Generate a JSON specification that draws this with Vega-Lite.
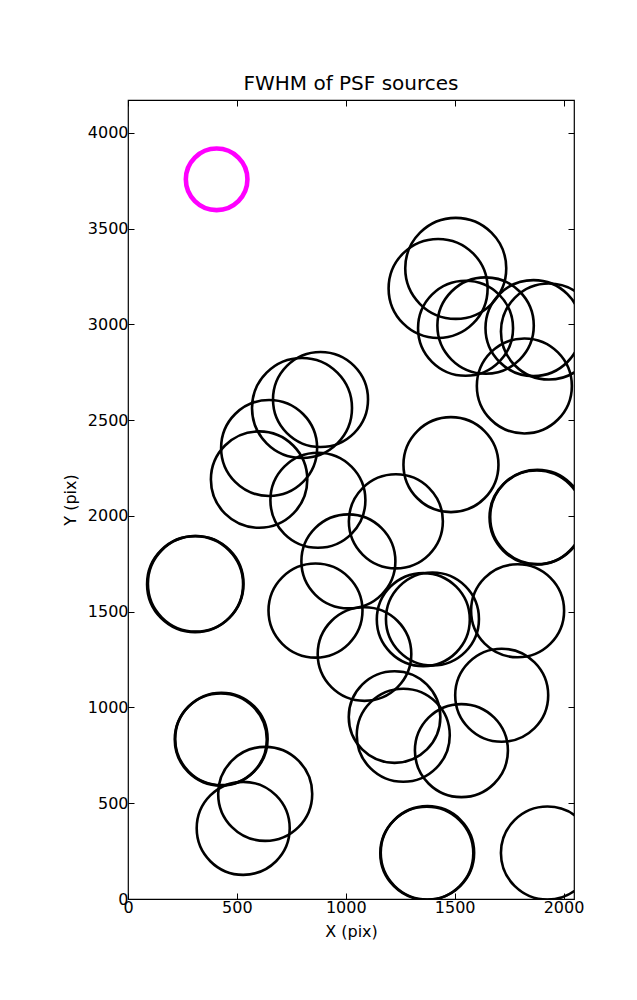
{
  "$schema": "https://vega.github.io/schema/vega-lite/v6.json",
  "width": 446,
  "height": 799,
  "autosize": {"type": "none"},
  "padding": {"left": 128, "top": 100, "right": 63, "bottom": 101},
  "background": "white",
  "title": {"text": "FWHM of PSF sources", "font": "DejaVu Sans", "fontSize": 20, "fontWeight": "normal", "color": "black", "offset": 6},
  "config": {
    "view": {"stroke": "black", "strokeWidth": 1.2},
    "axis": {"grid": false, "domain": false, "tickColor": "black", "tickSize": -6, "tickWidth": 1, "labelFont": "DejaVu Sans", "labelFontSize": 16, "labelColor": "black", "labelFlush": false, "labelOverlap": false, "format": "d", "titleFont": "DejaVu Sans", "titleFontSize": 16, "titleFontWeight": "normal", "titleColor": "black", "labelPadding": 6}
  },
  "data": {"values": [
    {"x": 1505, "y": 3293, "fwhm": 5.05, "kind": "source"},
    {"x": 1424, "y": 3188, "fwhm": 4.95, "kind": "source"},
    {"x": 1550, "y": 2980, "fwhm": 4.75, "kind": "source"},
    {"x": 1642, "y": 2994, "fwhm": 4.82, "kind": "source"},
    {"x": 1862, "y": 2981, "fwhm": 4.8, "kind": "source"},
    {"x": 1933, "y": 2963, "fwhm": 4.8, "kind": "source"},
    {"x": 1820, "y": 2679, "fwhm": 4.75, "kind": "source"},
    {"x": 884, "y": 2608, "fwhm": 4.75, "kind": "source"},
    {"x": 799, "y": 2564, "fwhm": 5.0, "kind": "source"},
    {"x": 648, "y": 2355, "fwhm": 4.8, "kind": "source"},
    {"x": 602, "y": 2190, "fwhm": 4.82, "kind": "source"},
    {"x": 872, "y": 2082, "fwhm": 4.75, "kind": "source"},
    {"x": 1230, "y": 1972, "fwhm": 4.7, "kind": "source"},
    {"x": 1483, "y": 2268, "fwhm": 4.75, "kind": "source"},
    {"x": 1876, "y": 1992, "fwhm": 4.7, "kind": "source"},
    {"x": 1880, "y": 1995, "fwhm": 4.72, "kind": "source"},
    {"x": 308, "y": 1644, "fwhm": 4.8, "kind": "source"},
    {"x": 311, "y": 1646, "fwhm": 4.78, "kind": "source"},
    {"x": 1012, "y": 1763, "fwhm": 4.7, "kind": "source"},
    {"x": 861, "y": 1506, "fwhm": 4.7, "kind": "source"},
    {"x": 1086, "y": 1279, "fwhm": 4.68, "kind": "source"},
    {"x": 1356, "y": 1459, "fwhm": 4.65, "kind": "source"},
    {"x": 1398, "y": 1462, "fwhm": 4.65, "kind": "source"},
    {"x": 1789, "y": 1505, "fwhm": 4.65, "kind": "source"},
    {"x": 1716, "y": 1064, "fwhm": 4.65, "kind": "source"},
    {"x": 1224, "y": 950, "fwhm": 4.58, "kind": "source"},
    {"x": 1264, "y": 855, "fwhm": 4.65, "kind": "source"},
    {"x": 1531, "y": 775, "fwhm": 4.65, "kind": "source"},
    {"x": 426, "y": 833, "fwhm": 4.6, "kind": "source"},
    {"x": 429, "y": 836, "fwhm": 4.62, "kind": "source"},
    {"x": 630, "y": 549, "fwhm": 4.7, "kind": "source"},
    {"x": 529, "y": 369, "fwhm": 4.65, "kind": "source"},
    {"x": 1372, "y": 239, "fwhm": 4.65, "kind": "source"},
    {"x": 1375, "y": 241, "fwhm": 4.67, "kind": "source"},
    {"x": 1926, "y": 240, "fwhm": 4.65, "kind": "source"},
    {"x": 407, "y": 3758, "fwhm": 3.08, "kind": "reference"}
  ]},
  "layer": [
    {
      "mark": {"type": "point", "filled": false, "clip": true, "opacity": 1},
      "encoding": {
        "x": {"field": "x", "type": "quantitative", "scale": {"domain": [0, 2048], "nice": false, "zero": false}, "axis": {"values": [0, 500, 1000, 1500, 2000], "title": "X (pix)", "titlePadding": 8}},
        "y": {"field": "y", "type": "quantitative", "scale": {"domain": [0, 4172], "nice": false, "zero": false}, "axis": {"values": [0, 500, 1000, 1500, 2000, 2500, 3000, 3500, 4000], "title": "Y (pix)", "titlePadding": 9}},
        "size": {"field": "fwhm", "type": "quantitative", "scale": {"type": "pow", "exponent": 2, "domain": [0, 5], "range": [0, 10000]}, "legend": null},
        "color": {"field": "kind", "type": "nominal", "scale": {"domain": ["source", "reference"], "range": ["black", "#ff00ff"]}, "legend": null},
        "strokeWidth": {"field": "kind", "type": "nominal", "scale": {"domain": ["source", "reference"], "range": [2.6, 4.6]}, "legend": null},
        "order": {"field": "fwhm", "type": "quantitative", "sort": "descending"}
      }
    },
    {
      "mark": {"type": "point", "opacity": 0},
      "encoding": {
        "x": {"field": "x", "type": "quantitative", "axis": {"orient": "top", "values": [0, 500, 1000, 1500, 2000], "labels": false, "title": null}},
        "y": {"field": "y", "type": "quantitative", "axis": {"orient": "right", "values": [0, 500, 1000, 1500, 2000, 2500, 3000, 3500, 4000], "labels": false, "title": null}}
      }
    }
  ],
  "resolve": {"axis": {"x": "independent", "y": "independent"}}
}
